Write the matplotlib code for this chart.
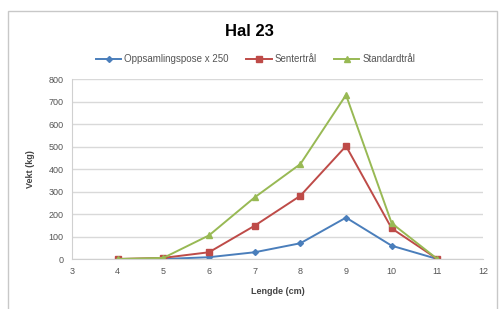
import matplotlib
matplotlib.use("Agg")
import matplotlib.pyplot as plt
from matplotlib.patches import Rectangle

plt.rcParams['font.family'] = ['Liberation Sans', 'DejaVu Sans']

# data
lengde = [4, 5, 6, 7, 8, 9, 10, 11]
oppsamling = [0, 0, 8, 30, 70, 184, 59, 0]
sentertral = [0, 5, 30, 148, 281, 502, 136, 0]
standardtral = [0, 5, 105, 274, 422, 729, 159, 0]

xticks = list(range(3, 13))
yticks = list(range(0, 801, 100))

fig = plt.figure(figsize=(4.99, 3.09), dpi=100)
ax = fig.add_axes([0.1443, 0.1618, 0.8237, 0.5825])

ax.plot(lengde, oppsamling, color='#4A7EBB', marker='D', markersize=3, lw=1.4,
        label='Oppsamlingspose x 250')
ax.plot(lengde, sentertral, color='#BE4B48', marker='s', markersize=4.5, lw=1.4,
        label='Sentertrål')
ax.plot(lengde, standardtral, color='#98B954', marker='^', markersize=4.5, lw=1.4,
        label='Standardtrål')

ax.set_xlim(3, 12)
ax.set_ylim(0, 800)
ax.set_xticks(xticks)
ax.set_yticks(yticks)
ax.grid(axis='y', color='#d9d9d9', lw=1)
ax.set_axisbelow(True)
for s in ['top', 'right']:
    ax.spines[s].set_visible(False)
ax.spines['left'].set_color('#d0d0d0')
ax.spines['bottom'].set_color('#d0d0d0')
ax.tick_params(length=0, labelsize=6.5, colors='#555555', pad=6)
ax.set_xlabel('Lengde (cm)', fontsize=6.5, fontweight='bold', color='#444444', labelpad=8)
ax.set_ylabel('Vekt (kg)', fontsize=6.5, fontweight='bold', color='#444444', labelpad=10)

fig.text(0.5, 1 - 31 / 309, 'Hal 23', ha='center', va='center', fontsize=12, fontweight='bold')
ax.legend(loc='center', bbox_to_anchor=(0.447, 1.11), ncol=3, frameon=False,
          fontsize=7, labelcolor='#555555', handlelength=2.6, handletextpad=0.3,
          columnspacing=1.8)

fig.patches.append(Rectangle((8 / 499, -0.02), 489 / 499, 1 - 11 / 309 + 0.02,
                             transform=fig.transFigure, fill=False, ec='#c8c8c8', lw=1))

fig.savefig('out.png', dpi=100)
